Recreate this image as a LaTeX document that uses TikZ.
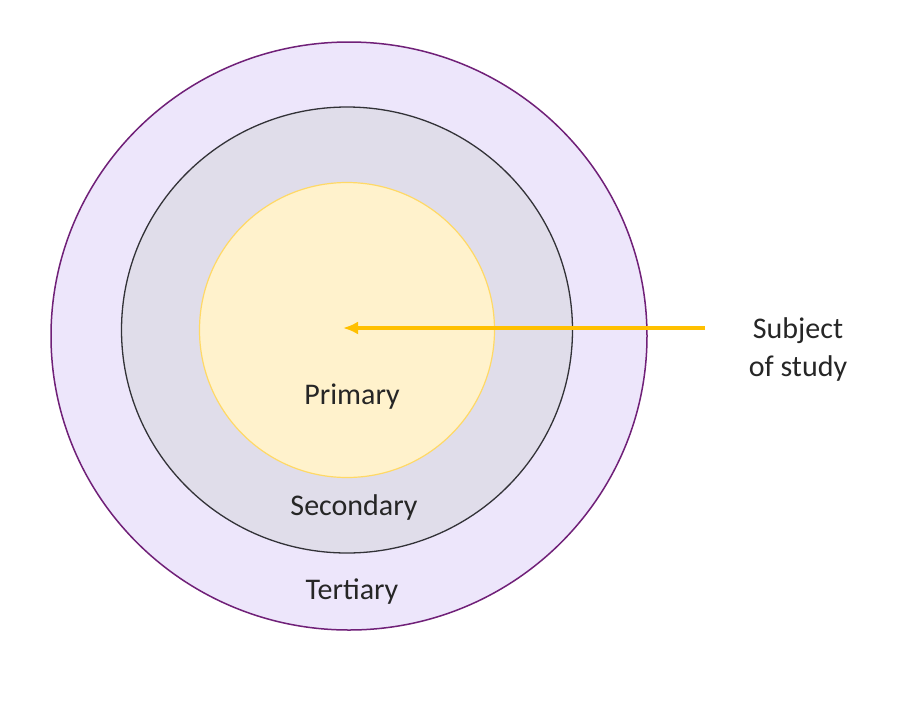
\documentclass[tikz,border=0pt]{standalone}
\usepackage{fontspec}
\setmainfont{Carlito}
\usetikzlibrary{arrows.meta}
\definecolor{outerfill}{RGB}{237,230,251}
\definecolor{outerline}{RGB}{112,32,120}
\definecolor{midfill}{RGB}{224,221,234}
\definecolor{midline}{RGB}{50,50,55}
\definecolor{innfill}{RGB}{255,242,204}
\definecolor{innline}{RGB}{255,217,102}
\definecolor{arrowc}{RGB}{255,192,0}
\begin{document}
\begin{tikzpicture}[x=1pt,y=-1pt,
  lbl/.style={font=\fontsize{30}{38}\selectfont, text=black!85, align=center}]
\useasboundingbox (0,0) rectangle (900,705);
\fill[white] (0,0) rectangle (900,705);
\draw[fill=outerfill, draw=outerline, line width=1.5pt]
  (349,336) ellipse [x radius=298, y radius=294];
\draw[fill=midfill, draw=midline, line width=1.3pt]
  (347,330) ellipse [x radius=225.5, y radius=223];
\draw[fill=innfill, draw=innline, line width=1.2pt]
  (347,330) circle [radius=147.5];
\node[lbl] (pri) at (352,397) {Primary};
\node[lbl] (sec) at (354,507) {Secondary};
\node[lbl] (ter) at (352,592) {Tertiary};
\node[lbl] (sub) at (798,349) {Subject\\of study};
\coordinate (ctr) at (343,328);
\coordinate (src) at (705,328);
\draw[-{Latex[length=15pt,width=13pt]}, draw=arrowc, line width=3.5pt] (src) -- (ctr);
\end{tikzpicture}
\end{document}
